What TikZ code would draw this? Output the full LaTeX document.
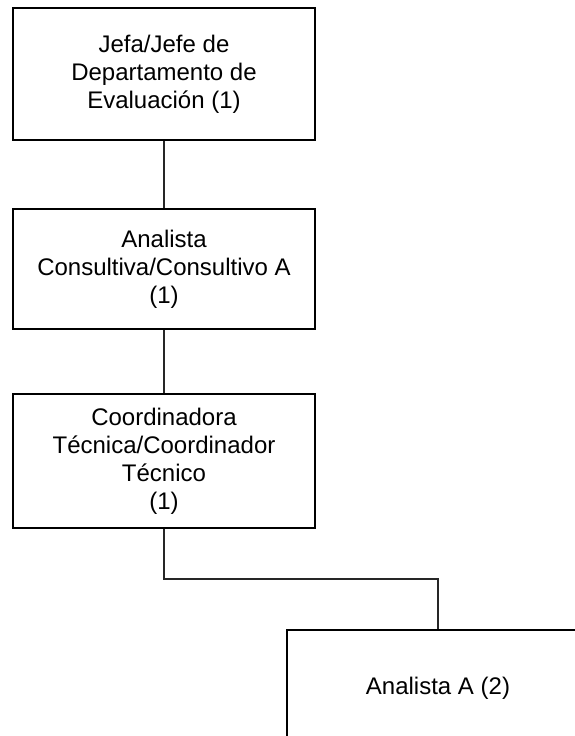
\documentclass[tikz,border=0pt]{standalone}
\usepackage{fontspec}
\setmainfont{Liberation Sans}
\begin{document}
\begin{tikzpicture}[x=1pt,y=-1pt,
  box/.style={draw=black, line width=2pt, minimum width=302pt, align=center, inner sep=0pt,
    font=\fontsize{24}{28}\selectfont, anchor=north west},
  link/.style={draw=black!85, line width=1.5pt}]
\useasboundingbox (0,0) rectangle (574,736);
\node[box, minimum height=132pt] (a) at (12,7) {Jefa/Jefe de\\Departamento de\\Evaluación (1)};
\node[box, minimum height=120pt] (b) at (12,208) {Analista\\Consultiva/Consultivo A\\(1)};
\node[box, minimum height=134pt] (c) at (12,393) {Coordinadora\\Técnica/Coordinador\\Técnico\\(1)};
\node[box, minimum height=116pt] (d) at (286,629) {Analista A (2)};
\draw[link] (a.south) -- (b.north);
\draw[link] (b.south) -- (c.north);
\draw[link] (c.south) -- ++(0,50) -| (d.north);
\end{tikzpicture}
\end{document}
